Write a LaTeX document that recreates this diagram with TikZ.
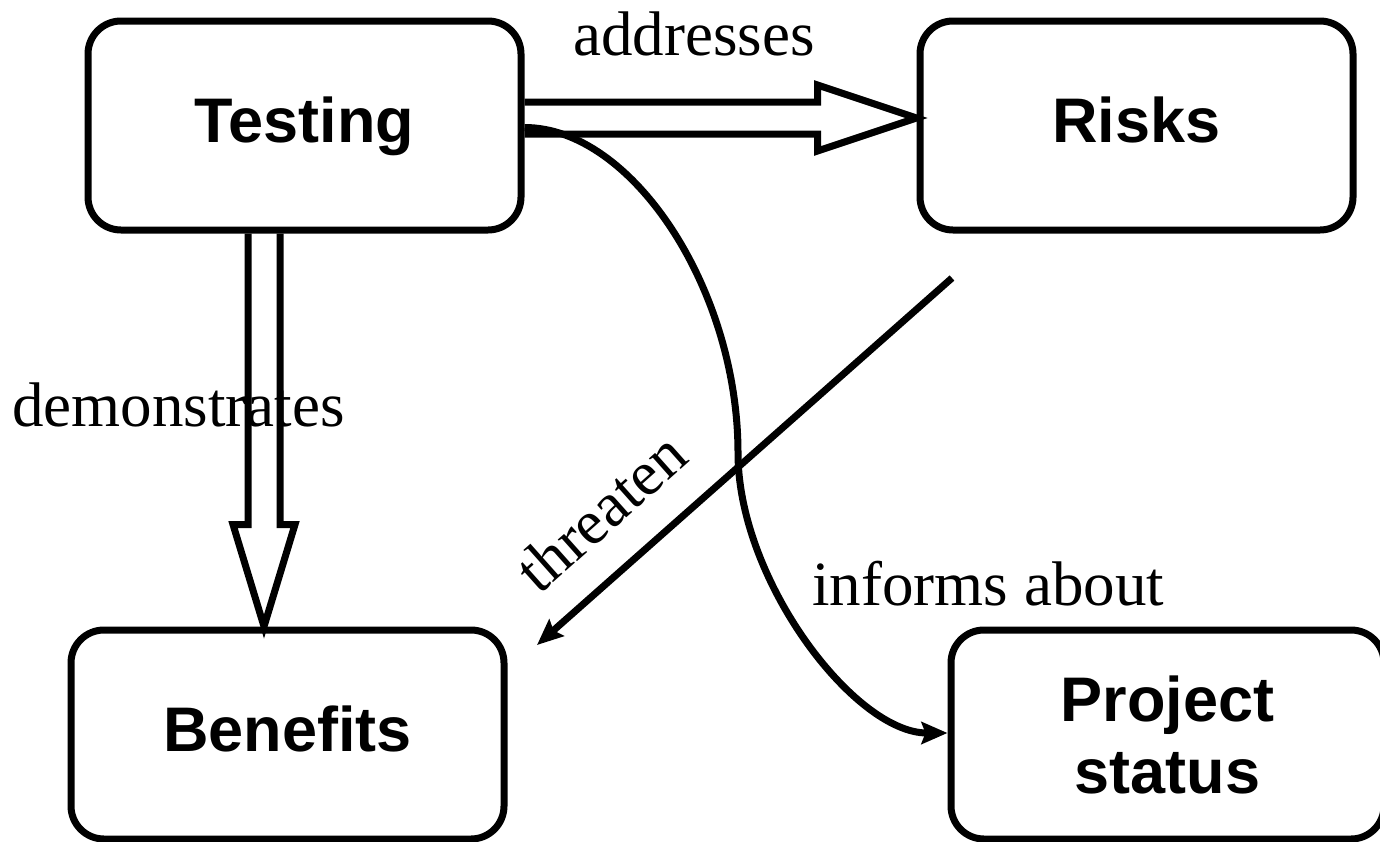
\documentclass[tikz,border=0pt]{standalone}
\usepackage{fontspec}
\setmainfont{Liberation Serif}
\newfontfamily\boxfont{Liberation Sans}
\usetikzlibrary{arrows.meta,calc}
\begin{document}
\begin{tikzpicture}[x=0.5pt,y=-0.5pt,
  box/.style={draw, line width=3.5pt, rounded corners=16.5pt,
    minimum width=216.5pt, minimum height=104.5pt, inner sep=0pt,
    font=\boxfont\bfseries\fontsize{31.5pt}{36pt}\selectfont, align=center},
  oneline/.style={text height=22.5pt, text depth=6pt},
  lbl/.style={font=\fontsize{31.5pt}{36pt}\selectfont, inner sep=0pt},
  hollow/.style={draw, line width=3.5pt, line join=miter, miter limit=10},
  conn/.style={draw, line width=3.5pt,
    -{Stealth[length=13pt,width=11pt,inset=2pt]}}]
\useasboundingbox (0,0) rectangle (1380,841);
\clip (0,0) rectangle (1380,841);

% boxes
\node[box,oneline] (test) at (304.5,125.5) {Testing};
\node[box,oneline] (risk) at (1136.5,125.5) {Risks};
\node[box,oneline] (ben) at (287.5,734.5) {Benefits};
\node[box] (proj) at (1167.5,734.5) {Project\\status};

% addresses (hollow arrow)
\coordinate (aS) at ($(test.east)+(0,-7.5)$);
\coordinate (aT) at ($(risk.west)+(0,-7.5)$);
\draw[hollow] ($(aS)+(0,-16)$) -- ($(aT)+(-99,-16)$) -- ($(aT)+(-99,-33)$)
  -- (aT) -- ($(aT)+(-99,33)$) -- ($(aT)+(-99,16)$) -- ($(aS)+(0,16)$);
\node[lbl, anchor=base] (laddr) at (694,55) {addresses};

% demonstrates (hollow arrow)
\coordinate (vS) at ($(test.south)+(-40.5,0)$);
\coordinate (vT) at ($(ben.north)+(-23.5,0)$);
\draw[hollow] ($(vS)+(-16,0)$) -- ($(vT)+(-16,-102)$) -- ($(vT)+(-31,-102)$)
  -- (vT) -- ($(vT)+(31,-102)$) -- ($(vT)+(16,-102)$) -- ($(vS)+(16,0)$);
\node[lbl, anchor=base west] (ldem) at (12,426) {demonstrates};

% threaten
\coordinate (t1) at (952,278);
\coordinate (t2) at (537,645);
\draw[conn] (t1) -- (t2);
\node[lbl, rotate=41.7] (lthr) at (601,512) {threaten};

% informs about
\coordinate (im) at (738,453);
\draw[conn] ($(test.east)+(0,2)$) .. controls +(107.5,0) and +(0,-164) .. (im)
  .. controls +(0,127) and +(-93,0) .. ($(proj.west)+(0,-1.5)$);
\node[lbl, anchor=base west] (linf) at (812,605) {informs about};
\end{tikzpicture}
\end{document}
